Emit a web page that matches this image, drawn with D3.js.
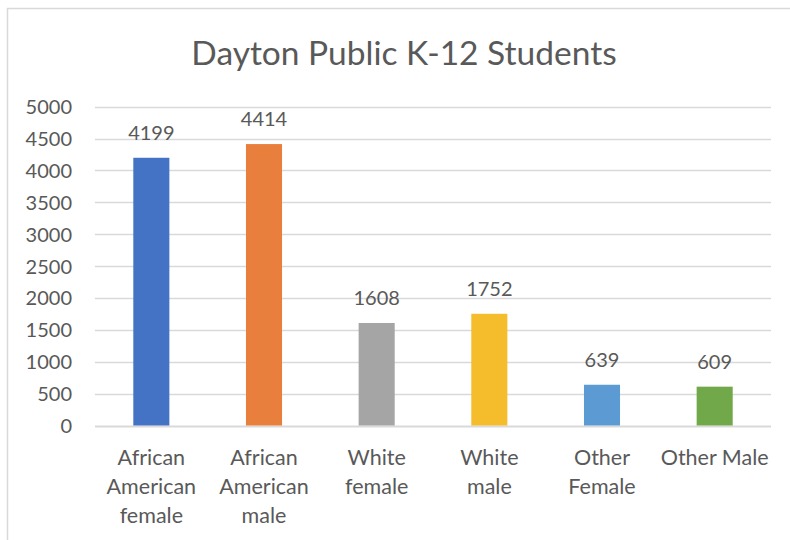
<!DOCTYPE html>
<html><head><meta charset="utf-8">
<script src="https://cdn.jsdelivr.net/npm/d3@7"></script>
<style>body{margin:0;background:#fff}svg{display:block}text{font-family:Lato,"Open Sans",sans-serif;fill:#595959}</style>
</head><body>
<script>
const categories = ["African American female","African American male","White female","White male","Other Female","Other Male"];
const categoryLines = [["African","American","female"],["African","American","male"],["White","female"],["White","male"],["Other","Female"],["Other Male"]];
const values = [4199,4414,1608,1752,639,609];
const colors = ["#4472C4","#E97F3D","#A5A5A5","#F5BC2B","#5C9AD3","#71A84A"];
const yTicks = [0,500,1000,1500,2000,2500,3000,3500,4000,4500,5000];
const title = "Dayton Public K-12 Students";

const W = 790, H = 540;
const svg = d3.select("body").append("svg").attr("width", W).attr("height", H);
svg.append("rect").attr("x",7.5).attr("y",8.5).attr("width",800).attr("height",560)
  .attr("fill","#fff").attr("stroke","#d9d9d9").attr("stroke-width",1.5);

const x = d3.scaleBand().domain(categories).range([95,771]).paddingInner(0.68).paddingOuter(0.34);
const y = d3.scaleLinear().domain([0,5000]).range([425.5,106.7]);

svg.append("text").attr("x",404).attr("y",65).attr("text-anchor","middle")
  .style("font-size","33.5px").text(title);

const grid = svg.append("g");
grid.selectAll("line").data(yTicks).join("line")
  .attr("x1",95).attr("x2",771).attr("y1",d=>Math.round(y(d))+0.5).attr("y2",d=>Math.round(y(d))+0.5)
  .attr("stroke","#d9d9d9").attr("stroke-width",d=>d===0?2:1.3);

const yAxis = d3.axisLeft(y).tickValues(yTicks).tickFormat(d3.format("d")).tickSize(0).tickPadding(0);
const ya = svg.append("g").attr("transform","translate(72,0)").call(yAxis);
ya.select(".domain").remove();
ya.selectAll("text").style("font-size","20px").attr("fill","#595959").attr("dy","0.35em");

svg.append("g").selectAll("rect").data(values).join("rect")
  .attr("x",(d,i)=>x(categories[i])).attr("width",x.bandwidth())
  .attr("y",d=>y(d)).attr("height",d=>y(0)-y(d)).attr("fill",(d,i)=>colors[i]);

svg.append("g").selectAll("text").data(values).join("text")
  .attr("x",(d,i)=>x(categories[i])+x.bandwidth()/2).attr("y",d=>y(d)-18)
  .attr("text-anchor","middle").style("font-size","20px").text(d=>d);

const xAxis = d3.axisBottom(x).tickSize(0).tickPadding(0);
const xa = svg.append("g").attr("transform","translate(0,445)").call(xAxis);
xa.select(".domain").remove();
xa.selectAll("text").style("font-size","21.5px").attr("fill","#595959").attr("dy",null).attr("y",20)
  .each(function(d){
    const t = d3.select(this); t.text(null);
    const lines = categoryLines[categories.indexOf(d)];
    lines.forEach((l,k)=>t.append("tspan").attr("x",0).attr("y",20+k*29).text(l));
  });
</script>
</body></html>
